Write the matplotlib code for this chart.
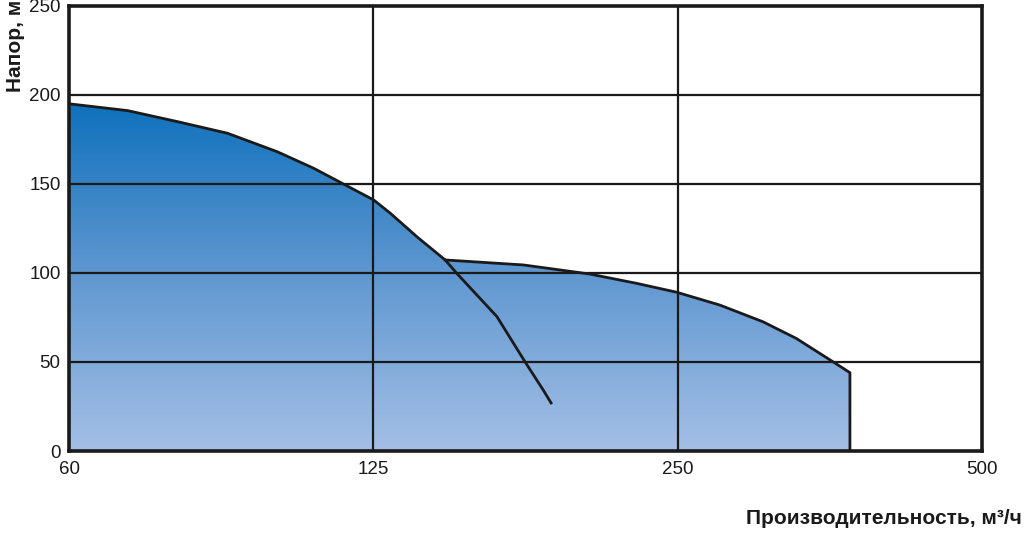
import numpy as np
import matplotlib
matplotlib.use("Agg")
import matplotlib.pyplot as plt
from matplotlib.colors import LinearSegmentedColormap

plt.rcParams['font.family'] = ['Liberation Sans', 'DejaVu Sans']

# x axis: equally spaced ticks, positions in grid cells
x_ticks = [0, 1, 2, 3]
x_labels = ['60', '125', '250', '500']
y_ticks = [0, 50, 100, 150, 200, 250]

# first pump curve (position, head m)
c1_x = [0.0, 0.192, 0.356, 0.520, 0.684, 0.804, 0.908, 1.001, 1.056, 1.144, 1.236,
        1.274, 1.406, 1.498, 1.558, 1.584]
c1_y = [195, 191.2, 185.0, 178.5, 168.1, 158.8, 149.4, 141.0, 133.5, 120.2, 107.3,
        99.8, 75.5, 50.2, 34.3, 27.0]
c1_join = 10  # index of junction with second curve

# second pump curve
c2_x = [1.236, 1.493, 1.711, 1.864, 1.996, 2.138, 2.280, 2.389, 2.515, 2.566]
c2_y = [107.3, 104.5, 99.4, 94.2, 89.2, 82.0, 72.6, 63.3, 49.6, 44.0]

fig = plt.figure(figsize=(10.24, 5.35), dpi=100)
ax = fig.add_axes([0.0674, 0.157, 0.8916, 0.832])

# filled area with vertical gradient
poly_x = c1_x[:c1_join + 1] + c2_x[1:] + [c2_x[-1], 0]
poly_y = c1_y[:c1_join + 1] + c2_y[1:] + [0, 0]
patch = ax.fill(poly_x, poly_y, facecolor='none', edgecolor='none', zorder=1)[0]
cmap = LinearSegmentedColormap.from_list('g', ['#a4bfe6', '#5f97d0', '#0a6fbb'])
grad = np.linspace(0, 1, 256).reshape(-1, 1)
im = ax.imshow(grad, cmap=cmap, extent=[0, 3, 0, 200], origin='lower',
               aspect='auto', zorder=1)
im.set_clip_path(patch)
ax.set_xlim(0, 3)
ax.set_ylim(0, 250)

# grid
for xt in x_ticks[1:-1]:
    ax.axvline(xt, color='#1a1a1a', lw=1.6, zorder=2)
for yt in y_ticks[1:-1]:
    ax.axhline(yt, color='#1a1a1a', lw=1.6, zorder=2)

# curves
ax.plot(c1_x, c1_y, color='#1a1a1a', lw=2, zorder=3, solid_joinstyle='round')
ax.plot(c2_x + [c2_x[-1]], c2_y + [0], color='#1a1a1a', lw=2, zorder=3,
        solid_joinstyle='round')

for s in ax.spines.values():
    s.set_linewidth(2.6)
    s.set_color('#1a1a1a')

ax.set_xticks(x_ticks)
ax.set_xticklabels(x_labels)
ax.set_yticks(y_ticks)
ax.tick_params(length=0, labelsize=13.5, colors='#1a1a1a', pad=6)
ax.tick_params(axis='x', pad=7)

fig.text(0.006, 1.0, 'Напор, м', rotation=90, ha='left', va='top',
         fontsize=15, fontweight='bold', color='#1a1a1a')
fig.text(0.998, 1 - 519 / 535, 'Производительность, м³/ч', ha='right', va='center',
         fontsize=15, fontweight='bold', color='#1a1a1a')

fig.savefig('out.png', dpi=100)
